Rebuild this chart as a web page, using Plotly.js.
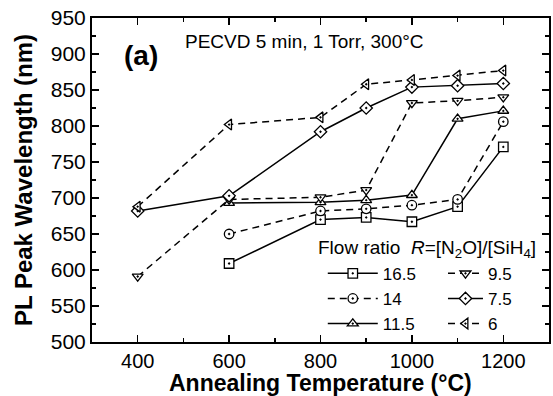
<!DOCTYPE html>
<html>
<head>
<meta charset="utf-8">
<script src="https://cdn.plot.ly/plotly-3.0.1.min.js"></script>
<style>html,body{margin:0;padding:0;background:#fff;}#chart{width:553px;height:396px;}</style>
</head>
<body>
<div id="chart"></div>
<script>
// Annealing temperatures (°C)
var tempsShort = [600, 800, 900, 1000, 1100, 1200];
var tempsLong = [400, 600, 800, 900, 1000, 1100, 1200];

// PL peak wavelength (nm) for each flow ratio R
var r16_5 = [609, 670, 673, 667, 688, 771];
var r14 = [650, 682, 685, 690, 698, 806];
var r11_5 = [693, 694, 697, 704, 810, 821];
var r9_5 = [591, 698, 701, 711, 832, 835, 840];
var r7_5 = [682, 703, 792, 825, 854, 856, 859];
var r6 = [688, 802, 812, 858, 864, 870, 877];

var seriesNames = ['16.5', '14', '11.5', '9.5', '7.5', '6'];

var FONT = 'Arial, "Liberation Sans", Helvetica, sans-serif';
var DASH = '7px,5px';

function mk(name, x, y, symbol, dash, legend) {
  return {
    type: 'scatter', mode: 'lines+markers', name: name, x: x, y: y,
    legend: legend,
    line: {color: 'black', width: 1.5, dash: dash},
    marker: {symbol: symbol, size: 9.5, color: 'white', line: {color: 'black', width: 1.3}}
  };
}

var data = [
  mk(seriesNames[0], tempsShort, r16_5, 'square-dot', 'solid', 'legend'),
  mk(seriesNames[1], tempsShort, r14, 'circle-dot', DASH, 'legend'),
  mk(seriesNames[2], tempsShort, r11_5, 'triangle-up-dot', 'solid', 'legend'),
  mk(seriesNames[3], tempsLong, r9_5, 'triangle-down-dot', DASH, 'legend2'),
  mk(seriesNames[4], tempsLong, r7_5, 'diamond-dot', 'solid', 'legend2'),
  mk(seriesNames[5], tempsLong, r6, 'triangle-left-dot', DASH, 'legend2')
];

var legendBase = {
  yanchor: 'top', xanchor: 'left', bgcolor: 'rgba(0,0,0,0)', borderwidth: 0,
  font: {family: FONT, size: 17, color: 'black'}, tracegroupgap: 0
};

var layout = {
  width: 553, height: 396,
  margin: {l: 92, r: 4, t: 18, b: 54},
  paper_bgcolor: 'white', plot_bgcolor: 'white',
  font: {family: FONT, color: 'black'},
  showlegend: true,
  legend: Object.assign({}, legendBase, {x: 0.505, y: 0.266, itemwidth: 50}),
  legend2: Object.assign({}, legendBase, {x: 0.768, y: 0.266, itemwidth: 35}),
  xaxis: {
    range: [300, 1300], tick0: 0, dtick: 200,
    ticks: 'inside', ticklen: 7, tickwidth: 1.5, tickcolor: 'black',
    minor: {dtick: 100, ticks: 'inside', ticklen: 4, tickwidth: 1.5, tickcolor: 'black'},
    showline: true, linewidth: 2, linecolor: 'black', mirror: 'ticks',
    showgrid: false, zeroline: false,
    tickfont: {family: FONT, size: 20, color: 'black'},
    title: {text: ''}
  },
  yaxis: {
    range: [500, 950], tick0: 500, dtick: 50,
    ticks: 'inside', ticklen: 7, tickwidth: 1.5, tickcolor: 'black',
    minor: {dtick: 25, ticks: 'inside', ticklen: 4, tickwidth: 1.5, tickcolor: 'black'},
    showline: true, linewidth: 2, linecolor: 'black', mirror: 'ticks',
    showgrid: false, zeroline: false,
    tickfont: {family: FONT, size: 21, color: 'black'},
    title: {text: '<b>PL Peak Wavelength (nm)</b>', font: {family: FONT, size: 24, color: 'black'}, standoff: 11}
  },
  annotations: [
    {xref: 'paper', yref: 'paper', x: 0.5, y: -0.128, xanchor: 'center', yanchor: 'middle',
     text: '<b>Annealing Temperature (°C)</b>', showarrow: false,
     font: {family: FONT, size: 23, color: 'black'}},
    {xref: 'paper', yref: 'paper', x: 0.107, y: 0.885, xanchor: 'center', yanchor: 'middle',
     text: '<b>(a)</b>', showarrow: false, font: {family: FONT, size: 28, color: 'black'}},
    {xref: 'paper', yref: 'paper', x: 0.2, y: 0.929, xanchor: 'left', yanchor: 'middle',
     text: 'PECVD 5 min, 1 Torr, 300°C', showarrow: false, font: {family: FONT, size: 19, color: 'black'}},
    {xref: 'paper', yref: 'paper', x: 0.49, y: 0.288, xanchor: 'left', yanchor: 'middle',
     text: 'Flow ratio  <i>R</i>=[N<sub>2</sub>O]/[SiH<sub>4</sub>]', showarrow: false,
     font: {family: FONT, size: 19, color: 'black'}}
  ]
};

Plotly.newPlot('chart', data, layout, {displayModeBar: false, staticPlot: true});
</script>
</body>
</html>
